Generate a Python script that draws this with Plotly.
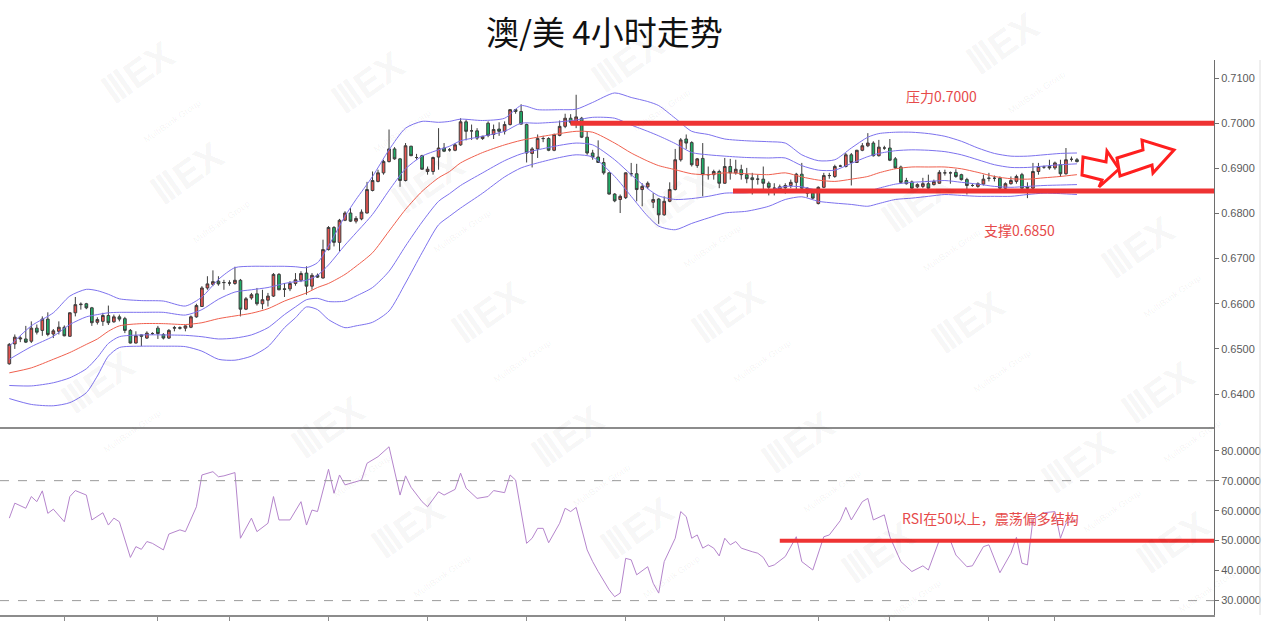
import plotly.graph_objects as go

# ---------------- data ----------------
title_text = "澳/美 4小时走势"

opens = [.6467,.6511,.6522,.6522,.6517,.6546,.6541,.6566,.6533,.6539,
         .6548,.6528,.6580,.6598,.6600,.6591,.6559,.6561,.6574,.6560,
         .6571,.6567,.6541,.6513,.6531,.6524,.6534,.6546,.6532,.6524,
         .6546,.6547,.6546,.6548,.6571,.6594,.6635,.6643,.6650,.6647,
         .6646,.6645,.6652,.6588,.6613,.6622,.6600,.6608,.6617,.6665,
         .6633,.6633,.6645,.6652,.6668,.6639,.6663,.6657,.6720,.6769,
         .6736,.6785,.6801,.6783,.6788,.6801,.6851,.6871,.6890,.6915,
         .6943,.6921,.6873,.6949,.6924,.6928,.6893,.6893,.6925,.6945,
         .6941,.6940,.6952,.7003,.6983,.6983,.6966,.7000,.6975,.6987,
         .6982,.6997,.7030,.7026,.6997,.6933,.6943,.6966,.6966,.6940,
         .6973,.6993,.7011,.7004,.7011,.6969,.6934,.6925,.6913,.6890,
         .6843,.6831,.6835,.6888,.6888,.6853,.6859,.6825,.6832,.6797,
         .6827,.6853,.6919,.6965,.6957,.6906,.6922,.6886,.6886,.6893,
         .6867,.6904,.6890,.6897,.6886,.6879,.6876,.6876,.6867,.6856,
         .6854,.6857,.6862,.6869,.6887,.6856,.6845,.6822,.6858,.6884,
         .6882,.6905,.6904,.6930,.6913,.6940,.6950,.6956,.6928,.6945,
         .6945,.6921,.6903,.6873,.6870,.6859,.6860,.6866,.6864,.6867,
         .6890,.6890,.6891,.6886,.6875,.6862,.6860,.6865,.6878,.6878,
         .6878,.6856,.6866,.6871,.6886,.6859,.6856,.6893,.6903,.6904,
         .6901,.6908,.6888,.6920,.6919]
highs = [.6513,.6532,.6528,.6551,.6561,.6554,.6572,.6581,.6544,.6561,
         .6552,.6581,.6615,.6603,.6602,.6593,.6570,.6580,.6596,.6576,
         .6576,.6571,.6544,.6539,.6532,.6539,.6537,.6551,.6535,.6544,
         .6551,.6550,.6552,.6574,.6600,.6639,.6661,.6674,.6661,.6653,
         .6652,.6682,.6655,.6615,.6624,.6635,.6631,.6624,.6668,.6668,
         .6646,.6650,.6668,.6672,.6683,.6668,.6667,.6742,.6772,.6772,
         .6788,.6805,.6812,.6794,.6809,.6870,.6893,.6897,.6919,.6986,
         .6947,.6923,.6956,.6950,.6932,.6930,.6904,.6926,.6989,.6956,
         .6945,.6956,.7011,.7008,.6997,.6989,.6972,.7004,.6997,.7002,
         .7004,.7031,.7031,.7042,.6999,.6947,.6975,.6972,.6969,.6977,
         .7006,.7021,.7020,.7063,.7014,.6982,.6941,.6962,.6923,.6891,
         .6845,.6842,.6891,.6912,.6910,.6867,.6871,.6845,.6834,.6838,
         .6869,.6943,.6967,.6975,.6960,.6923,.6956,.6904,.6897,.6897,
         .6923,.6921,.6919,.6908,.6901,.6890,.6886,.6904,.6871,.6867,
         .6864,.6867,.6875,.6890,.6912,.6858,.6849,.6860,.6890,.6890,
         .6908,.6908,.6934,.6934,.6941,.6956,.6978,.6960,.6963,.6950,
         .6965,.6925,.6906,.6879,.6873,.6867,.6879,.6886,.6875,.6896,
         .6897,.6893,.6898,.6888,.6879,.6866,.6869,.6886,.6890,.6884,
         .6882,.6869,.6882,.6886,.6890,.6869,.6912,.6912,.6906,.6919,
         .6915,.6919,.6945,.6926,.6923]
lows = [.6465,.6500,.6515,.6513,.6513,.6532,.6529,.6528,.6524,.6532,
        .6528,.6527,.6572,.6587,.6588,.6551,.6554,.6551,.6553,.6558,
        .6561,.6535,.6512,.6512,.6506,.6522,.6531,.6522,.6521,.6522,
        .6539,.6543,.6539,.6546,.6569,.6593,.6631,.6639,.6640,.6631,
        .6640,.6642,.6572,.6586,.6609,.6596,.6588,.6594,.6615,.6630,
        .6615,.6628,.6640,.6648,.6620,.6631,.6657,.6656,.6718,.6727,
        .6716,.6783,.6781,.6778,.6785,.6800,.6849,.6869,.6886,.6913,
        .6919,.6859,.6871,.6927,.6919,.6897,.6886,.6886,.6897,.6936,
        .6937,.6938,.6950,.6962,.6963,.6963,.6963,.6969,.6965,.6972,
        .6975,.6995,.7021,.6997,.6913,.6902,.6923,.6958,.6938,.6938,
        .6971,.6989,.6997,.6989,.6967,.6930,.6919,.6912,.6886,.6842,
        .6825,.6801,.6832,.6882,.6827,.6816,.6854,.6812,.6777,.6795,
        .6825,.6851,.6915,.6943,.6904,.6901,.6838,.6875,.6875,.6856,
        .6866,.6875,.6886,.6875,.6867,.6842,.6864,.6853,.6840,.6840,
        .6849,.6844,.6856,.6851,.6854,.6836,.6832,.6820,.6856,.6877,
        .6879,.6903,.6902,.6862,.6912,.6938,.6947,.6926,.6926,.6941,
        .6916,.6899,.6866,.6864,.6854,.6856,.6856,.6854,.6862,.6866,
        .6884,.6866,.6879,.6873,.6842,.6859,.6857,.6862,.6871,.6871,
        .6854,.6854,.6864,.6866,.6854,.6834,.6854,.6886,.6899,.6897,
        .6897,.6881,.6886,.6915,.6913]
closes = [.6510,.6526,.6524,.6515,.6546,.6537,.6566,.6532,.6540,.6548,
          .6529,.6580,.6598,.6599,.6591,.6558,.6565,.6574,.6558,.6571,
          .6566,.6541,.6513,.6529,.6528,.6535,.6534,.6534,.6524,.6541,
          .6547,.6546,.6551,.6571,.6596,.6635,.6644,.6649,.6644,.6647,
          .6646,.6652,.6588,.6611,.6620,.6600,.6609,.6617,.6665,.6631,
          .6632,.6645,.6653,.6667,.6639,.6663,.6659,.6720,.6769,.6736,
          .6785,.6801,.6783,.6789,.6803,.6853,.6873,.6890,.6915,.6943,
          .6921,.6873,.6950,.6928,.6924,.6898,.6898,.6924,.6945,.6938,
          .6941,.6952,.7003,.6982,.6983,.6967,.6971,.6973,.6986,.6982,
          .6997,.7030,.7026,.6998,.6934,.6943,.6966,.6966,.6940,.6975,
          .6993,.7011,.7002,.7014,.6969,.6934,.6925,.6913,.6890,.6843,
          .6828,.6838,.6890,.6888,.6853,.6860,.6867,.6831,.6797,.6827,
          .6853,.6919,.6963,.6956,.6908,.6921,.6886,.6886,.6893,.6867,
          .6904,.6890,.6898,.6886,.6877,.6875,.6876,.6867,.6858,.6856,
          .6859,.6862,.6869,.6887,.6856,.6845,.6834,.6858,.6884,.6884,
          .6904,.6905,.6930,.6913,.6940,.6950,.6956,.6928,.6947,.6945,
          .6918,.6901,.6869,.6866,.6856,.6864,.6866,.6856,.6871,.6891,
          .6890,.6890,.6882,.6875,.6862,.6862,.6866,.6876,.6878,.6878,
          .6856,.6866,.6873,.6882,.6856,.6856,.6893,.6904,.6903,.6901,
          .6912,.6888,.6919,.6920,.6915]
candle_idx = list(range(len(opens)))

# band lines (upper outer, upper inner, middle, lower inner, lower outer), read at these candles
band_idx = [0,4,8,11,14,16,18,20,24,28,32,35,38,41,44,47,50,52,54,56,58,61,63,66,69,72,75,78,80,82,
            86,90,93,96,100,103,106,110,113,116,118,121,124,127,130,134,138,141,144,147,150,153,156,158,
            161,164,167,170,173,176,179,182,185,188,191,194]
band_uo = [.6506,.6551,.6580,.6617,.6632,.6629,.6621,.6611,.6607,.6606,.6595,.6615,.6654,.6680,.6683,
           .6683,.6683,.6682,.6680,.6691,.6728,.6794,.6831,.6882,.6941,.6989,.7004,.7002,.7004,.7009,
           .7006,.7011,.7039,.7030,.7030,.7031,.7046,.7067,.7057,.7048,.7039,.7011,.6982,.6975,.6965,
           .6961,.6959,.6956,.6930,.6917,.6919,.6945,.6969,.6977,.6980,.6980,.6977,.6971,.6960,.6945,
           .6933,.6927,.6927,.6930,.6933,.6934]
band_ui = [.6477,.6505,.6528,.6554,.6571,.6576,.6580,.6581,.6581,.6581,.6575,.6587,.6610,.6626,.6631,
           .6636,.6645,.6649,.6652,.6663,.6686,.6730,.6757,.6798,.6851,.6899,.6927,.6941,.6949,.6961,
           .6971,.6982,.7000,.7000,.7003,.7007,.7013,.7011,.6996,.6982,.6972,.6955,.6935,.6930,.6927,
           .6924,.6923,.6923,.6906,.6896,.6896,.6911,.6926,.6933,.6939,.6941,.6940,.6937,.6930,.6919,
           .6908,.6902,.6902,.6905,.6908,.6910]
band_mid = [.6447,.6458,.6477,.6492,.6510,.6522,.6539,.6551,.6556,.6556,.6554,.6558,.6567,.6573,.6579,
            .6589,.6606,.6615,.6624,.6636,.6645,.6665,.6683,.6713,.6761,.6809,.6849,.6879,.6893,.6912,
            .6935,.6952,.6962,.6969,.6977,.6982,.6980,.6956,.6934,.6916,.6906,.6897,.6888,.6886,.6890,
            .6888,.6886,.6890,.6881,.6874,.6871,.6876,.6882,.6890,.6899,.6903,.6903,.6903,.6899,.6891,
            .6882,.6877,.6876,.6879,.6882,.6886]
band_li = [.6419,.6418,.6425,.6436,.6456,.6481,.6512,.6527,.6531,.6531,.6530,.6527,.6522,.6524,.6531,
           .6547,.6576,.6593,.6609,.6612,.6605,.6606,.6617,.6636,.6672,.6728,.6781,.6827,.6844,.6862,
           .6890,.6917,.6932,.6941,.6951,.6956,.6952,.6919,.6886,.6855,.6839,.6831,.6833,.6838,.6845,
           .6846,.6851,.6860,.6859,.6851,.6848,.6848,.6849,.6856,.6865,.6869,.6871,.6873,.6869,.6865,
           .6860,.6858,.6860,.6862,.6863,.6864]
band_lo = [.6390,.6377,.6374,.6381,.6403,.6440,.6484,.6503,.6506,.6506,.6505,.6495,.6477,.6475,.6484,
           .6505,.6547,.6569,.6593,.6587,.6565,.6547,.6551,.6559,.6584,.6646,.6713,.6775,.6794,.6812,
           .6845,.6881,.6901,.6912,.6924,.6930,.6925,.6882,.6838,.6794,.6772,.6764,.6778,.6790,.6801,
           .6805,.6816,.6831,.6837,.6827,.6823,.6820,.6816,.6822,.6831,.6834,.6838,.6842,.6840,.6838,
           .6838,.6838,.6842,.6845,.6844,.6842]

rsi_idx = [0,1,3,4,5,6,7,8,10,11,12,14,15,17,18,19,20,22,23,24,25,26,28,29,31,32,34,35,37,38,
           39,41,42,44,45,47,48,49,51,53,54,55,56,58,59,60,61,63,64,65,67,69,71,72,73,75,76,78,79,81,
           82,83,85,87,88,90,91,92,94,95,96,97,98,100,101,102,103,105,106,107,109,110,111,112,113,114,
           116,117,118,119,121,122,123,124,125,126,127,128,129,130,131,132,133,135,136,137,138,139,141,
           143,144,146,148,149,151,152,153,155,156,157,159,160,162,164,166,167,169,171,172,174,175,177,
           178,180,182,183,184,185,186,188,190,191,192,194]
rsi_val = [57.5,62.5,60.8,64.7,63.0,66.6,59.1,60.5,56.3,64.7,66.7,65.2,56.9,59.3,55.2,57.5,56.3,44.4,
           48.0,47.1,49.7,49.1,46.9,52.2,53.6,53.0,61.3,71.9,73.0,71.3,71.6,72.7,50.8,57.5,53.0,55.8,
           64.7,56.9,56.9,63.0,55.2,60.2,59.7,73.8,65.8,71.9,68.6,69.7,70.2,75.8,78.0,81.3,65.2,71.6,
           67.8,63.0,61.3,66.3,65.2,67.1,72.5,67.5,64.1,64.7,66.7,66.0,71.9,70.2,49.1,50.8,54.1,54.1,
           49.3,55.8,60.8,59.7,61.1,46.9,43.0,39.7,33.6,31.3,32.5,44.1,43.6,38.6,41.3,35.8,32.5,43.0,
           50.8,59.7,58.0,50.8,51.9,47.5,48.6,47.5,44.9,50.8,48.6,49.7,47.5,46.3,45.8,44.4,41.3,41.9,
           44.7,51.3,43.0,40.2,51.3,51.9,56.7,61.1,56.9,63.0,64.1,56.9,58.6,51.3,43.0,39.7,41.6,40.2,
           50.2,50.0,45.2,41.3,41.6,48.0,48.6,39.3,45.8,51.1,42.5,41.9,57.1,59.3,59.7,50.8,55.8,57.0]

price_ticks = [0.6400, 0.6500, 0.6600, 0.6700, 0.6800, 0.6900, 0.7000, 0.7100]
rsi_ticks = [30, 40, 50, 60, 70, 80]
rsi_bounds = [70, 30]
session_ticks = [10, 27, 40, 58, 76, 94, 112, 130, 147, 160, 178, 190]

resistance_level = 0.7000
resistance_from = 102
support_level = 0.6850
support_from = 131.5
rsi_mid_level = 50
rsi_mid_from = 140

resistance_label = "压力0.7000"
support_label = "支撑0.6850"
rsi_label = "RSI在50以上，震荡偏多结构"

# ---------------- layout helpers ----------------
W, H = 1282, 624
ML, MR, MT, MB = 0, 68, 60, 9
PW, PH = W - ML - MR, H - MT - MB
X_RANGE = [-1.69, 218.9]


def px(x):
    return (x - ML) / PW


def py(y):
    return 1 - (y - MT) / PH


split = py(427)
RED = "#ee3333"
TXT_RED = "#e64a4a"

fig = go.Figure()

fig.add_trace(go.Candlestick(
    x=candle_idx, open=opens, high=highs, low=lows, close=closes,
    xaxis="x", yaxis="y", whiskerwidth=0,
    increasing=dict(line=dict(color="#3d3d3d", width=1), fillcolor="#e8524e"),
    decreasing=dict(line=dict(color="#3d3d3d", width=1), fillcolor="#1fae67"),
    showlegend=False, hoverinfo="skip"))

for vals, col in [(band_uo, "#7d72ee"), (band_ui, "#7d72ee"), (band_mid, "#f0604e"),
                  (band_li, "#7d72ee"), (band_lo, "#7d72ee")]:
    fig.add_trace(go.Scatter(x=band_idx, y=vals, mode="lines", xaxis="x", yaxis="y",
                             line=dict(color=col, width=1, shape="spline", smoothing=0.7),
                             showlegend=False, hoverinfo="skip"))

fig.add_trace(go.Scatter(x=rsi_idx, y=rsi_val, mode="lines", xaxis="x2", yaxis="y2",
                         line=dict(color="#b585cc", width=1), showlegend=False, hoverinfo="skip"))

axis_col = "#6e6e6e"
tick_font = dict(family="Liberation Sans, Arial", size=11, color="#5a5a5a")

fig.update_layout(
    width=W, height=H, margin=dict(l=ML, r=MR, t=MT, b=MB),
    paper_bgcolor="white", plot_bgcolor="white", showlegend=False,
    xaxis=dict(domain=[0, 1], range=X_RANGE, anchor="y", showticklabels=False, showgrid=False,
               zeroline=False, showline=True, linecolor="#8c8c8c", linewidth=2, ticks="",
               rangeslider=dict(visible=False)),
    xaxis2=dict(domain=[0, 1], range=X_RANGE, matches="x", anchor="y2", showticklabels=False,
                showgrid=False, zeroline=False, showline=True, linecolor="#8c8c8c", linewidth=2,
                ticks="outside", tickvals=session_ticks, ticklen=4, tickcolor="#8c8c8c"),
    yaxis=dict(domain=[split, 1], side="right", anchor="x", range=[0.6327, 0.7140],
               tickvals=price_ticks, tickformat=".4f", showgrid=False, zeroline=False,
               showline=True, linecolor=axis_col, linewidth=1, ticks="outside", ticklen=4,
               tickcolor=axis_col, tickfont=tick_font),
    yaxis2=dict(domain=[0, split], side="right", anchor="x2", range=[25.2, 87.9],
                tickvals=rsi_ticks, tickformat=".4f", showgrid=False, zeroline=False,
                showline=True, linecolor=axis_col, linewidth=1, ticks="outside", ticklen=4,
                tickcolor=axis_col, tickfont=tick_font),
)

shapes = []
# RSI 70 / 30 dashed guides
for lv in rsi_bounds:
    shapes.append(dict(type="line", xref="paper", x0=0, x1=1, yref="y2", y0=lv, y1=lv,
                       line=dict(color="#9a9a9a", width=1, dash="dash")))
# thin border on far right
shapes.append(dict(type="line", xref="paper", x0=px(1260), x1=px(1260), yref="paper",
                   y0=py(615), y1=py(60), line=dict(color="#dedede", width=1)))
# key levels
shapes.append(dict(type="line", xref="x", x0=resistance_from, x1=X_RANGE[1], yref="y",
                   y0=resistance_level, y1=resistance_level, line=dict(color=RED, width=5)))
shapes.append(dict(type="line", xref="x", x0=support_from, x1=X_RANGE[1], yref="y",
                   y0=support_level, y1=support_level, line=dict(color=RED, width=5)))
shapes.append(dict(type="line", xref="x", x0=rsi_mid_from, x1=X_RANGE[1], yref="y2",
                   y0=rsi_mid_level, y1=rsi_mid_level, line=dict(color=RED, width=4)))


def arrow_path(pts):
    return "M " + " L ".join(f"{px(a):.5f},{py(b):.5f}" for a, b in pts) + " Z"


small_arrow = [(1083, 157), (1106, 162), (1107, 151), (1119, 169), (1099, 187), (1102, 180), (1082, 175)]
big_arrow = [(1117, 158), (1143, 150), (1142, 140), (1174, 150), (1153, 173), (1152, 165), (1120, 176)]
for pts in (small_arrow, big_arrow):
    shapes.append(dict(type="path", xref="paper", yref="paper", path=arrow_path(pts),
                       fillcolor="white", line=dict(color="#ff1f1f", width=3)))
fig.update_layout(shapes=shapes)

ann = []
# faint watermark tiles
marks = [(150, 90), (380, 100), (640, 80), (1015, 62), (200, 190), (440, 200), (690, 215), (930, 220),
         (1150, 265), (500, 330), (740, 330), (980, 340), (110, 400), (340, 445), (580, 455), (810, 460),
         (1170, 410), (1090, 480), (420, 545), (650, 545), (890, 570), (1185, 560)]
for (mx, my) in marks:
    ann.append(dict(xref="paper", yref="paper", x=px(mx), y=py(my), showarrow=False, textangle=-35,
                    xanchor="center", yanchor="middle",
                    text="<b>ⅢEX</b><br><span style='font-size:9px'>MultiBank Group</span>",
                    font=dict(family="Liberation Sans, Arial", size=38, color="rgba(0,0,0,0.055)")))


def label(x, y, text, size, color, family="Noto Sans CJK SC"):
    return dict(xref="paper", yref="paper", x=px(x), y=py(y), xanchor="center", yanchor="middle",
                showarrow=False, text=text, font=dict(family=family, size=size, color=color))


ann.append(label(604, 31, title_text, 33, "#111111"))
ann.append(label(941, 96, resistance_label, 14, TXT_RED))
ann.append(label(1019, 230, support_label, 14, TXT_RED))
ann.append(label(990, 518, rsi_label, 14, TXT_RED))
fig.update_layout(annotations=ann)

fig.write_html("out.html", config={"displayModeBar": False},
               post_script="document.body.style.margin='0';document.body.style.overflow='hidden';")
